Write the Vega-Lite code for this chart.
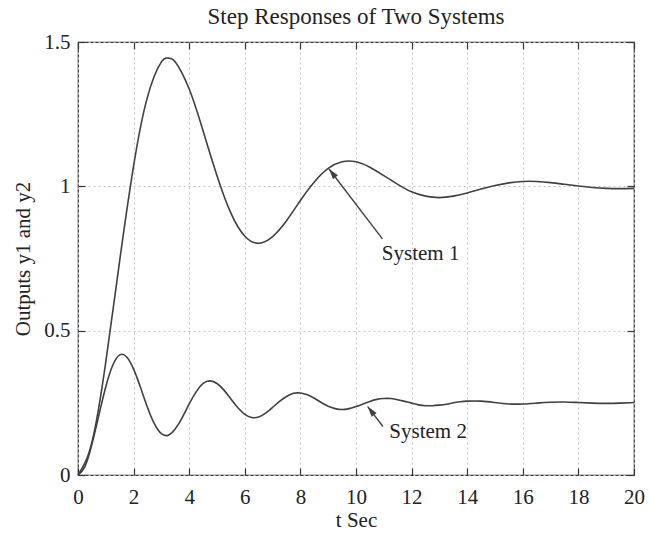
{
  "$schema": "https://vega.github.io/schema/vega-lite/v6.json",
  "width": 556,
  "height": 433,
  "autosize": {"type": "none"},
  "padding": {"left": 78, "top": 42, "right": 15, "bottom": 59},
  "background": "white",
  "config": {
    "view": {"stroke": "#333", "strokeWidth": 1.2},
    "font": "Liberation Serif"
  },
  "title": {
    "text": "Step Responses of Two Systems",
    "font": "Liberation Serif",
    "fontSize": 23,
    "fontWeight": "normal",
    "color": "#222",
    "offset": 2
  },
  "datasets": {
    "curves": [
      {"t":0,"y":0,"s":"System 1"},{"t":0.5,"y":0.113,"s":"System 1"},{"t":1,"y":0.392,"s":"System 1"},{"t":1.5,"y":0.743,"s":"System 1"},{"t":2,"y":1.071,"s":"System 1"},{"t":2.5,"y":1.310,"s":"System 1"},{"t":3,"y":1.431,"s":"System 1"},{"t":3.25,"y":1.444,"s":"System 1"},{"t":3.5,"y":1.431,"s":"System 1"},{"t":4,"y":1.337,"s":"System 1"},{"t":4.5,"y":1.192,"s":"System 1"},{"t":5,"y":1.037,"s":"System 1"},{"t":5.5,"y":0.907,"s":"System 1"},{"t":6,"y":0.827,"s":"System 1"},{"t":6.5,"y":0.803,"s":"System 1"},{"t":7,"y":0.826,"s":"System 1"},{"t":7.5,"y":0.881,"s":"System 1"},{"t":8,"y":0.951,"s":"System 1"},{"t":8.5,"y":1.015,"s":"System 1"},{"t":9,"y":1.062,"s":"System 1"},{"t":9.5,"y":1.085,"s":"System 1"},{"t":10,"y":1.085,"s":"System 1"},{"t":10.5,"y":1.066,"s":"System 1"},{"t":11,"y":1.037,"s":"System 1"},{"t":11.5,"y":1.007,"s":"System 1"},{"t":12,"y":0.981,"s":"System 1"},{"t":12.5,"y":0.966,"s":"System 1"},{"t":13,"y":0.961,"s":"System 1"},{"t":13.5,"y":0.966,"s":"System 1"},{"t":14,"y":0.977,"s":"System 1"},{"t":14.5,"y":0.991,"s":"System 1"},{"t":15,"y":1.003,"s":"System 1"},{"t":15.5,"y":1.012,"s":"System 1"},{"t":16,"y":1.017,"s":"System 1"},{"t":16.5,"y":1.017,"s":"System 1"},{"t":17,"y":1.013,"s":"System 1"},{"t":17.5,"y":1.007,"s":"System 1"},{"t":18,"y":1.001,"s":"System 1"},{"t":18.5,"y":0.996,"s":"System 1"},{"t":19,"y":0.993,"s":"System 1"},{"t":19.5,"y":0.992,"s":"System 1"},{"t":20,"y":0.993,"s":"System 1"},
      {"t":0,"y":0,"s":"System 2"},{"t":0.25,"y":0.029,"s":"System 2"},{"t":0.5,"y":0.106,"s":"System 2"},{"t":0.75,"y":0.207,"s":"System 2"},{"t":1,"y":0.306,"s":"System 2"},{"t":1.25,"y":0.380,"s":"System 2"},{"t":1.5,"y":0.416,"s":"System 2"},{"t":1.75,"y":0.409,"s":"System 2"},{"t":2,"y":0.367,"s":"System 2"},{"t":2.25,"y":0.303,"s":"System 2"},{"t":2.5,"y":0.234,"s":"System 2"},{"t":2.75,"y":0.177,"s":"System 2"},{"t":3,"y":0.143,"s":"System 2"},{"t":3.25,"y":0.138,"s":"System 2"},{"t":3.5,"y":0.160,"s":"System 2"},{"t":3.75,"y":0.199,"s":"System 2"},{"t":4,"y":0.246,"s":"System 2"},{"t":4.25,"y":0.288,"s":"System 2"},{"t":4.5,"y":0.317,"s":"System 2"},{"t":4.75,"y":0.326,"s":"System 2"},{"t":5,"y":0.317,"s":"System 2"},{"t":5.25,"y":0.294,"s":"System 2"},{"t":5.5,"y":0.263,"s":"System 2"},{"t":5.75,"y":0.233,"s":"System 2"},{"t":6,"y":0.210,"s":"System 2"},{"t":6.25,"y":0.199,"s":"System 2"},{"t":6.5,"y":0.201,"s":"System 2"},{"t":6.75,"y":0.214,"s":"System 2"},{"t":7,"y":0.234,"s":"System 2"},{"t":7.25,"y":0.255,"s":"System 2"},{"t":7.5,"y":0.272,"s":"System 2"},{"t":7.75,"y":0.283,"s":"System 2"},{"t":8,"y":0.284,"s":"System 2"},{"t":8.25,"y":0.278,"s":"System 2"},{"t":8.5,"y":0.266,"s":"System 2"},{"t":8.75,"y":0.251,"s":"System 2"},{"t":9,"y":0.238,"s":"System 2"},{"t":9.25,"y":0.230,"s":"System 2"},{"t":9.5,"y":0.227,"s":"System 2"},{"t":9.75,"y":0.230,"s":"System 2"},{"t":10,"y":0.237,"s":"System 2"},{"t":10.25,"y":0.246,"s":"System 2"},{"t":10.5,"y":0.255,"s":"System 2"},{"t":10.75,"y":0.262,"s":"System 2"},{"t":11,"y":0.265,"s":"System 2"},{"t":11.25,"y":0.265,"s":"System 2"},{"t":11.5,"y":0.261,"s":"System 2"},{"t":11.75,"y":0.255,"s":"System 2"},{"t":12,"y":0.249,"s":"System 2"},{"t":12.25,"y":0.243,"s":"System 2"},{"t":12.5,"y":0.240,"s":"System 2"},{"t":12.75,"y":0.240,"s":"System 2"},{"t":13,"y":0.242,"s":"System 2"},{"t":13.25,"y":0.245,"s":"System 2"},{"t":13.5,"y":0.250,"s":"System 2"},{"t":13.75,"y":0.254,"s":"System 2"},{"t":14,"y":0.256,"s":"System 2"},{"t":14.5,"y":0.256,"s":"System 2"},{"t":15,"y":0.251,"s":"System 2"},{"t":15.5,"y":0.246,"s":"System 2"},{"t":16,"y":0.246,"s":"System 2"},{"t":16.5,"y":0.249,"s":"System 2"},{"t":17,"y":0.252,"s":"System 2"},{"t":17.5,"y":0.253,"s":"System 2"},{"t":18,"y":0.251,"s":"System 2"},{"t":18.5,"y":0.249,"s":"System 2"},{"t":19,"y":0.248,"s":"System 2"},{"t":19.5,"y":0.249,"s":"System 2"},{"t":20,"y":0.251,"s":"System 2"}
    ],
    "arrows": [
      {"x":10.95,"y":0.818,"x2":9.03,"y2":1.06,"label":"System 1","lx":10.93,"ly":0.764},
      {"x":10.97,"y":0.168,"x2":10.42,"y2":0.237,"label":"System 2","lx":11.2,"ly":0.150}
    ]
  },
  "layer": [
    {
      "data": {"name": "curves"},
      "mark": {"type": "line", "interpolate": "natural", "color": "#404040", "strokeWidth": 1.6},
      "encoding": {
        "x": {
          "field": "t", "type": "quantitative",
          "scale": {"domain": [0, 20], "nice": false},
          "axis": {
            "orient": "bottom", "values": [0,2,4,6,8,10,12,14,16,18,20], "labelFlush": false,
            "grid": true, "gridDash": [2,3], "gridColor": "#c4c4c4", "gridWidth": 1,
            "domain": false, "tickSize": -7, "tickColor": "#333", "tickWidth": 1.2,
            "labelPadding": 18, "labelFont": "Liberation Serif", "labelFontSize": 21, "labelColor": "#222",
            "title": "t Sec", "titleFont": "Liberation Serif", "titleFontSize": 21, "titleFontWeight": "normal", "titleColor": "#222", "titlePadding": 2
          }
        },
        "y": {
          "field": "y", "type": "quantitative",
          "scale": {"domain": [0, 1.5], "nice": false},
          "axis": {
            "orient": "left", "values": [0,0.5,1,1.5], "format": ".1~f", "labelFlush": false,
            "grid": true, "gridDash": [2,3], "gridColor": "#c4c4c4", "gridWidth": 1,
            "domain": false, "tickSize": -7, "tickColor": "#333", "tickWidth": 1.2,
            "labelPadding": 15, "labelFont": "Liberation Serif", "labelFontSize": 21, "labelColor": "#222",
            "title": "Outputs y1 and y2", "titleFont": "Liberation Serif", "titleFontSize": 21, "titleFontWeight": "normal", "titleColor": "#222", "titlePadding": 10
          }
        },
        "detail": {"field": "s"}
      }
    },
    {
      "data": {"name": "arrows"},
      "mark": {"type": "rule", "color": "#404040", "strokeWidth": 1.4},
      "encoding": {
        "x": {"field": "x", "type": "quantitative", "axis": null},
        "y": {"field": "y", "type": "quantitative", "axis": null},
        "x2": {"field": "x2"},
        "y2": {"field": "y2"}
      }
    },
    {
      "data": {"name": "arrows"},
      "mark": {"type": "point", "shape": "M0,0L0.6,2L-0.6,2Z", "filled": true, "color": "#404040", "size": 110, "angle": 322, "opacity": 1},
      "encoding": {
        "x": {"field": "x2", "type": "quantitative", "axis": null},
        "y": {"field": "y2", "type": "quantitative", "axis": null}
      }
    },
    {
      "data": {"name": "arrows"},
      "mark": {"type": "text", "align": "left", "baseline": "middle", "font": "Liberation Serif", "fontSize": 21, "color": "#222"},
      "encoding": {
        "x": {"field": "lx", "type": "quantitative", "axis": null},
        "y": {"field": "ly", "type": "quantitative", "axis": null},
        "text": {"field": "label"}
      }
    },
    {
      "data": {"name": "curves"},
      "mark": {"type": "line", "opacity": 0},
      "encoding": {
        "x": {
          "field": "t", "type": "quantitative",
          "axis": {"orient": "top", "values": [0,2,4,6,8,10,12,14,16,18,20], "labels": false, "grid": false, "domain": false, "tickSize": -7, "tickColor": "#333", "tickWidth": 1.2, "title": null}
        },
        "y": {
          "field": "y", "type": "quantitative",
          "axis": {"orient": "right", "values": [0,0.5,1,1.5], "labels": false, "grid": false, "domain": false, "tickSize": -7, "tickColor": "#333", "tickWidth": 1.2, "title": null}
        },
        "detail": {"field": "s"}
      }
    }
  ],
  "resolve": {"axis": {"x": "independent", "y": "independent"}}
}
